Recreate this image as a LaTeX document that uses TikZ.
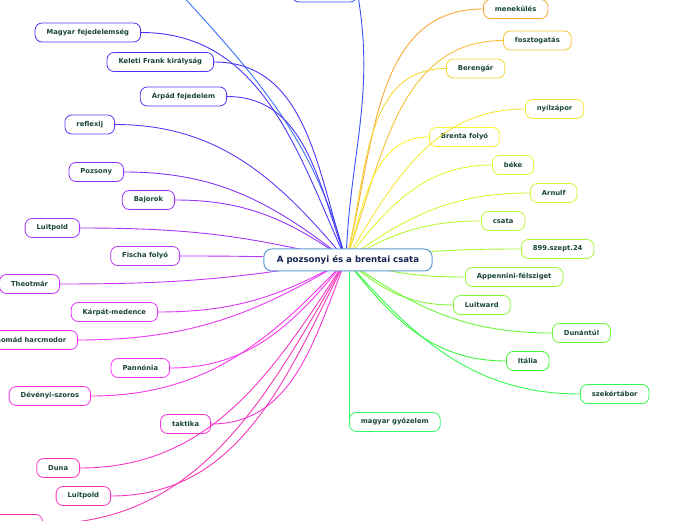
\documentclass[tikz,border=0pt]{standalone}
\usepackage{fontspec}
\setmainfont{DejaVu Sans}
\usepackage{tikz}
\usetikzlibrary{positioning}
\definecolor{txt}{RGB}{25,70,55}
\definecolor{roottxt}{RGB}{20,35,80}
\definecolor{rootline}{RGB}{95,155,215}

\begin{document}
\begin{tikzpicture}[x=1pt, y=1pt,
		hc/.code={\definecolor{hsbcol}{Hsb}{#1,0.78,0.97}\colorlet{hcol}[rgb]{hsbcol}\pgfkeysalso{draw=hcol}},
		topic/.style={hc=#1, line width=0.8pt, fill=white, rounded corners=7pt,
			minimum height=19pt, inner xsep=11.5pt, inner ysep=0pt,
			font=\fontsize{6.8}{8}\selectfont\bfseries, text=txt},
		edge/.style={line width=0.9pt},
		root/.style={draw=rootline, line width=1pt, fill=white, rounded corners=8pt,
			minimum height=22pt, inner xsep=13pt,
			font=\fontsize{8.6}{10}\selectfont\bfseries, text=roottxt}
	]
	\useasboundingbox (0,0) rectangle (696,520);
	\clip (0,0) rectangle (696,520);
	
	% bal oldal
	\node[topic=245, anchor=east] (magyar) at (141,487.5) {Magyar fejedelemség};
	\node[topic=246, anchor=east] (keleti) at (214,458) {Keleti Frank királyság};
	\node[topic=248, anchor=east] (arpad) at (227,423.5) {Árpád fejedelem};
	\node[topic=255, anchor=east] (reflexij) at (115,395.5) {reflexij};
	\node[topic=265, anchor=east] (pozsony) at (124,348) {Pozsony};
	\node[topic=270, anchor=east] (bajorok) at (175,320) {Bajorok};
	\node[topic=275, anchor=east] (luitpoldA) at (80,292) {Luitpold};
	\node[topic=280, anchor=east] (fischa) at (180,264) {Fischa folyó};
	\node[topic=285, anchor=east] (theotmar) at (60,236) {Theotmár};
	\node[topic=292, anchor=east] (karpat) at (158,208) {Kárpát-medence};
	\node[topic=297, anchor=east] (nomad) at (78,180) {nomád harcmodor};
	\node[topic=300, anchor=east] (pannonia) at (170,152) {Pannónia};
	\node[topic=305, anchor=east] (deveny) at (91,124) {Dévényi-szoros};
	\node[topic=310, anchor=east] (taktika) at (211,96) {taktika};
	\node[topic=315, anchor=east] (duna) at (80,52) {Duna};
	\node[topic=318, anchor=east] (luitpoldB) at (111,24) {Luitpold};
	\node[topic=322, anchor=north east, minimum width=110pt] (lent) at (43,6) {};
	
	% jobb oldal
	\node[topic=35, anchor=west] (menekules) at (483,511) {menekülés};
	\node[topic=43, anchor=west] (fosztogatas) at (503,479.5) {fosztogatás};
	\node[topic=50, anchor=west] (berengar) at (446,451.5) {Berengár};
	\node[topic=55, anchor=west] (nyilzapor) at (525,411) {nyílzápor};
	\node[topic=60, anchor=west] (brenta) at (429,383) {Brenta folyó};
	\node[topic=66, anchor=west] (beke) at (492,355) {béke};
	\node[topic=72, anchor=west] (arnulf) at (530,327) {Arnulf};
	\node[topic=78, anchor=west] (csata) at (481,299) {csata};
	\node[topic=85, anchor=west] (szept) at (521,271) {899.szept.24};
	\node[topic=90, anchor=west] (appennini) at (465,243) {Appennini-félsziget};
	\node[topic=96, anchor=west] (luitward) at (453,215) {Luitward};
	\node[topic=104, anchor=west] (dunantul) at (552,187) {Dunántúl};
	\node[topic=118, anchor=west] (italia) at (506,159) {Itália};
	\node[topic=128, anchor=west] (szekertabor) at (580,126) {szekértábor};
	\node[topic=134, anchor=west] (gyozelem) at (349,98) {magyar győzelem};
	
	% fent, kilóg
	\node[topic=232, minimum width=65pt] (fent) at (324.5,527.5) {};
	\coordinate (kilog) at (150,560);
	
	\coordinate (hub) at (346,260);
	
	\draw[edge, hc=222] (hub) to[out=105, in=-48] (kilog);
	\draw[edge, hc=232] (hub) to[out=88, in=-80] (fent.east);
	\foreach \n/\h/\o in {magyar/245/114, keleti/246/108, arpad/248/110,
		reflexij/255/130, pozsony/265/142, bajorok/270/145, luitpoldA/275/166,
		fischa/280/177, theotmar/285/190, karpat/292/209, nomad/297/211,
		pannonia/300/231, deveny/305/227, taktika/310/248, duna/315/237,
		luitpoldB/318/243, lent/322/240}
	\draw[edge, hc=\h] (hub) to[out=\o, in=0] (\n.east);
	\foreach \n/\h/\o in {menekules/35/75, fosztogatas/43/70, berengar/50/75,
		nyilzapor/55/59, brenta/60/71, beke/66/52, arnulf/72/36, csata/78/30,
		szept/85/7, appennini/90/-16, luitward/96/-40, dunantul/104/-35,
		italia/118/-52, szekertabor/128/-49}
	\draw[edge, hc=\h] (hub) to[out=\o, in=180] (\n.west);
	\draw[edge, hc=134] (gyozelem.west |- hub) -- (gyozelem.west);
	
	\node[root] (csatak) at (348,260) {A pozsonyi és a brentai csata};
\end{tikzpicture}
\end{document}
